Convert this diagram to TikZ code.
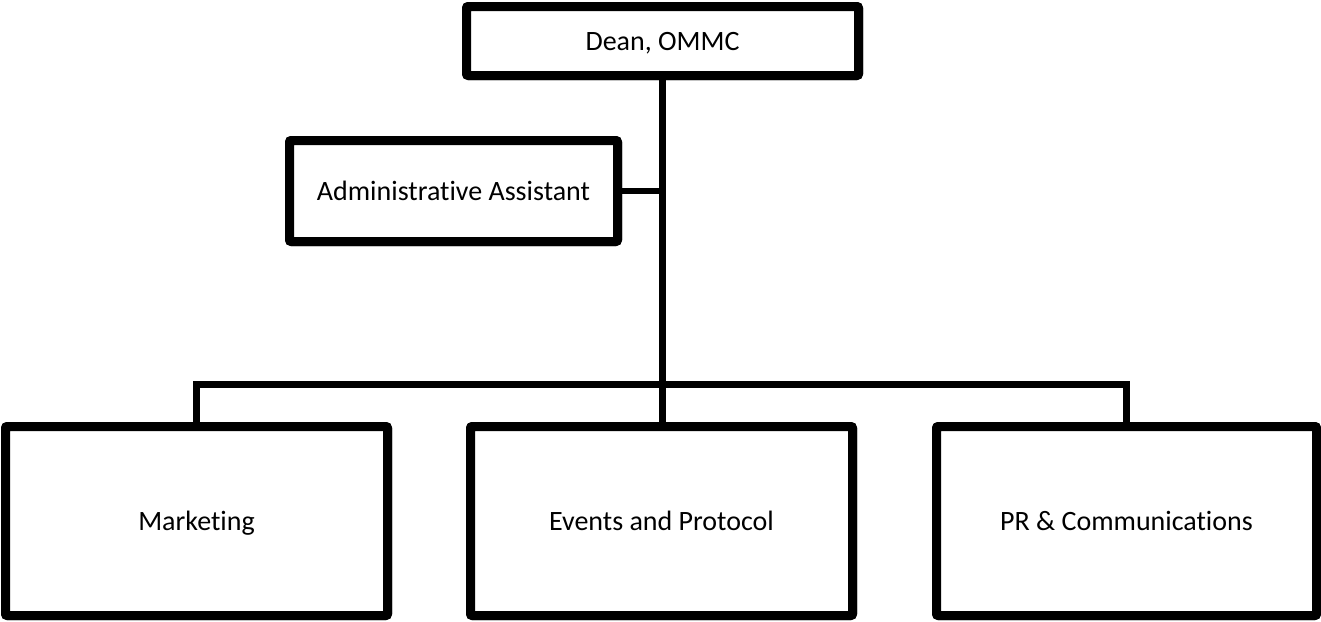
\documentclass[tikz,border=0pt]{standalone}
\usepackage{fontspec}
\setmainfont{Carlito}[Ligatures={NoCommon}]
\usetikzlibrary{shadows}
\begin{document}
\begin{tikzpicture}[x=1pt,y=-1pt,
  box/.style={draw=black, line width=9pt, fill=white, rounded corners=2pt,
    inner sep=0pt, outer sep=0pt, font=\fontsize{28}{32}\selectfont,
    text height=18pt, text depth=0pt,
    drop shadow={shadow xshift=1pt, shadow yshift=-3pt, opacity=0.18, fill=black}},
  link/.style={draw=black, line width=6.5pt}]
\useasboundingbox (0,0) rectangle (1321,621);
\node[box, minimum width=392pt, minimum height=69pt] (dean) at (662.5,41) {Dean, OMMC};
\node[box, minimum width=328pt, minimum height=101pt] (admin) at (453.5,191) {Administrative Assistant};
\node[box, minimum width=382pt, minimum height=189pt] (mkt) at (196.5,521) {Marketing};
\node[box, minimum width=382pt, minimum height=189pt] (evt) at (661.5,521) {Events and Protocol};
\node[box, minimum width=380pt, minimum height=189pt] (pr) at (1126.5,521) {PR \& Communications};
\coordinate (spineA) at (dean.south |- admin.east);
\coordinate (bus) at (dean.south |- 0,384.5);
\draw[link] (dean.south) -- (evt.north -| dean.south);
\draw[link] (admin.east) -- (spineA);
\draw[link] (mkt.north) -- (mkt.north |- bus) -- (pr.north |- bus) -- (pr.north);
\draw[link] (bus) -- (evt.north -| bus);
% redraw boxes on top of connectors
\node[box, minimum width=392pt, minimum height=69pt] at (662.5,41) {Dean, OMMC};
\node[box, minimum width=328pt, minimum height=101pt] at (453.5,191) {Administrative Assistant};
\node[box, minimum width=382pt, minimum height=189pt] at (196.5,521) {Marketing};
\node[box, minimum width=382pt, minimum height=189pt] at (661.5,521) {Events and Protocol};
\node[box, minimum width=380pt, minimum height=189pt] at (1126.5,521) {PR \& Communications};
\end{tikzpicture}
\end{document}
